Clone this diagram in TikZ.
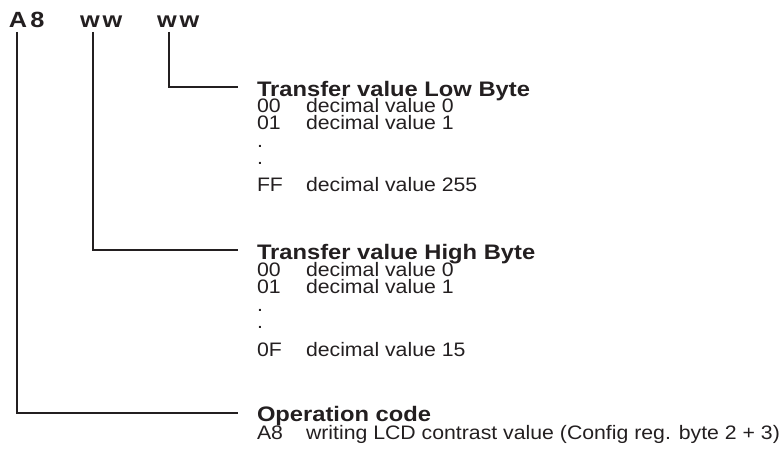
\documentclass[tikz,border=0pt]{standalone}
\usepackage{fontspec}
\setmainfont{Liberation Sans}
\newfontfamily\ttlfont[FakeStretch=1.13]{Liberation Sans}
\newfontfamily\bodyfont[FakeStretch=1.09]{Liberation Sans}
\newfontfamily\hdrfont[FakeStretch=1.15,LetterSpace=14]{Liberation Sans}
\definecolor{ink}{HTML}{231F20}
\begin{document}
\begin{tikzpicture}[x=1pt,y=-1pt,
  every node/.style={inner sep=0pt,outer sep=0pt,text=ink},
  hdr/.style={anchor=base west,font=\hdrfont\fontsize{22}{22}\selectfont\bfseries},
  ttl/.style={anchor=base west,font=\ttlfont\fontsize{21}{21}\selectfont\bfseries},
  body/.style={anchor=base west,font=\bodyfont\fontsize{19.5}{19.5}\selectfont},
  conn/.style={draw=ink,line width=1.4pt}]
\useasboundingbox (0,0) rectangle (782,452);
% header
\node[hdr] (hA) at (9,28) {A8};
\node[hdr] (hH) at (80,28) {ww};
\node[hdr] (hL) at (157,28) {ww};
% low byte
\node[ttl] (tL) at (257,96) {Transfer value Low Byte};
\node[body] (l1a) at (257,112) {00};
\node[body] (l1b) at (306,112) {decimal value 0};
\node[body] (l2a) at (257,129) {01};
\node[body] (l2b) at (306,129) {decimal value 1};
\node[body] (l3) at (257,147) {.};
\node[body] (l4) at (257,164) {.};
\node[body] (l5a) at (257,191) {FF};
\node[body] (l5b) at (306,191) {decimal value 255};
% high byte
\node[ttl] (tH) at (257,259) {Transfer value High Byte};
\node[body] (h1a) at (257,276) {00};
\node[body] (h1b) at (306,276) {decimal value 0};
\node[body] (h2a) at (257,293) {01};
\node[body] (h2b) at (306,293) {decimal value 1};
\node[body] (h3) at (257,311) {.};
\node[body] (h4) at (257,328) {.};
\node[body] (h5a) at (257,356) {0F};
\node[body] (h5b) at (306,356) {decimal value 15};
% opcode
\node[ttl] (tO) at (257,421) {Operation code};
\node[body] (o1a) at (257,439) {A8};
\node[body] (o1b) at (306,439) {writing LCD contrast value (Config reg. byte 2 + 3)};
% connectors
\coordinate (sL) at (169,32);
\coordinate (sH) at (93,32);
\coordinate (sA) at (17,32);
\coordinate (eL) at (238,87);
\coordinate (eH) at (238,250);
\coordinate (eA) at (238,413);
\draw[conn] (sL) |- (eL);
\draw[conn] (sH) |- (eH);
\draw[conn] (sA) |- (eA);
\end{tikzpicture}
\end{document}
